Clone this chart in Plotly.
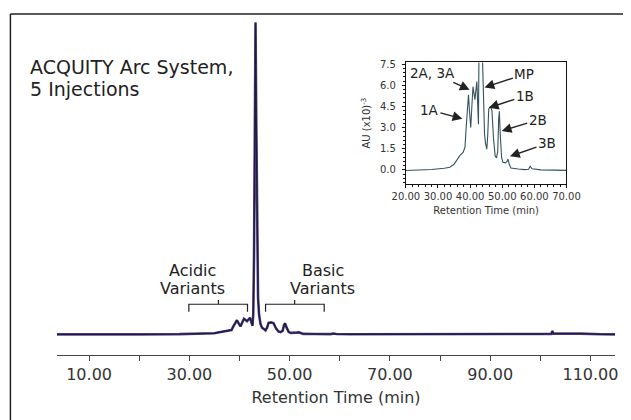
import plotly.graph_objects as go

# chromatogram (AU x10^-3), same run used for main view and inset zoom
rt_min = [3.6, 8.0, 12.0, 16.0, 20.0, 28.0, 32.0, 33.7, 35.0, 35.7, 36.8, 37.8, 38.4, 38.8,
          39.2, 39.5, 39.8, 40.2, 40.5, 40.9, 41.5, 42.1, 42.6, 42.75, 42.9, 43.05, 43.2,
          43.35, 43.5, 43.7, 43.9, 44.2, 44.5, 44.8, 45.2, 45.5, 45.8, 46.3, 46.8, 47.3,
          47.8, 48.2, 48.6, 48.9, 49.1, 49.4, 49.8, 50.2, 51.0, 51.5, 51.8, 52.2, 52.7,
          55.0, 57.0, 58.2, 58.7, 59.3, 62.0, 70.0, 80.0, 90.0, 100.0, 102.2, 102.4,
          102.6, 104.0, 108.0, 112.0, 115.0]
au = [-0.05, -0.1, 0.0, -0.08, -0.04, 0.03, 0.12, 0.19, 0.4, 0.66, 1.01, 1.24, 1.6, 3.1,
      4.6, 5.33, 4.2, 3.0, 4.3, 5.9, 4.98, 6.26, 3.23, 8.0, 30.0, 80.0, 118.5,
      80.0, 35.0, 14.0, 7.5, 3.8, 2.5, 1.9, 1.47, 2.5, 4.3, 4.5, 4.2, 2.2,
      1.0, 0.85, 1.3, 3.6, 4.16, 2.5, 0.9, 0.54, 0.5, 0.6, 0.77, 0.4, 0.14,
      0.07, 0.02, 0.05, 0.26, 0.08, 0.0, -0.03, -0.02, 0.0, 0.1, 0.15, 1.2,
      0.25, 0.3, 0.25, 0.0, -0.05]

# peak labels in the inset: text, arrow target (min, AU), text offset (px)
peak_names = ["2A, 3A", "MP", "1A", "1B", "2B", "3B"]
peak_rt = [39.85, 44.48, 37.6, 45.83, 49.85, 52.41]
peak_au = [5.68, 5.85, 3.62, 4.40, 2.76, 0.96]
label_dx = [-37, 40, -33, 36, 36, 37]
label_dy = [-17, -13, -9, -12, -11, -13]

# variant brackets (start, middle, end in min)
acidic_span = [29.9, 35.8, 41.6]
basic_span = [45.2, 51.0, 56.9]

FONT = "DejaVu Sans"
INK = "#222222"

fig = go.Figure()

fig.add_trace(go.Scatter(x=rt_min, y=au, mode="lines", line=dict(color="#5b4391", width=2.6),
                         hoverinfo="skip"))
fig.add_trace(go.Scatter(x=rt_min, y=au, mode="lines", line=dict(color="#1e1b3d", width=1.4)))
fig.add_trace(go.Scatter(x=rt_min, y=au, mode="lines", line=dict(color="#33535c", width=1.1),
                         xaxis="x2", yaxis="y2"))

# page body keeps an 8px margin, so the figure is 8px smaller than the window
fig.update_layout(
    width=623, height=412,
    margin=dict(l=49, r=11, t=2, b=65),
    paper_bgcolor="white", plot_bgcolor="white",
    showlegend=False,
    font=dict(family=FONT, color=INK),
    xaxis=dict(
        range=[3.6, 114.9], showgrid=False, zeroline=False,
        showline=True, linecolor="#444", linewidth=1.3,
        ticks="outside", ticklen=5, tickcolor="#444", tickwidth=1.3,
        tick0=10, dtick=20, tickformat=".2f",
        minor=dict(tick0=0, dtick=10, ticks="outside", ticklen=5, tickcolor="#444", tickwidth=1.3),
        tickfont=dict(size=16, color="#333"),
        title=dict(text="Retention Time (min)", font=dict(size=16, color="#333"), standoff=8),
    ),
    yaxis=dict(range=[-7.89, 121.76], visible=False),
    xaxis2=dict(
        domain=[0.6252, 0.9130], anchor="y2", range=[20, 70],
        showgrid=False, zeroline=False, showline=True, mirror=True,
        linecolor="#111", linewidth=1,
        ticks="outside", ticklen=3, tickcolor="#111",
        tick0=20, dtick=10, tickformat=".2f",
        minor=dict(dtick=2, ticks="outside", ticklen=2, tickcolor="#111"),
        tickfont=dict(size=10, color="#333"),
        title=dict(text="Retention Time (min)", font=dict(size=10, color="#333"), standoff=5),
    ),
    yaxis2=dict(
        domain=[0.5014, 0.8580], anchor="x2", range=[-1.0, 7.62],
        showgrid=False, zeroline=False, showline=True, mirror=True,
        linecolor="#111", linewidth=1,
        ticks="outside", ticklen=3, tickcolor="#111",
        tick0=0, dtick=1.5, tickformat=".1f", ticklabelstandoff=4,
        minor=dict(dtick=0.3, ticks="outside", ticklen=2, tickcolor="#111"),
        tickfont=dict(size=10, color="#333"),
        title=dict(text="AU (x10)<sup>-3</sup>", font=dict(size=10, color="#333"), standoff=7),
    ),
)

# frame around the figure (cropped on the right and bottom)
fig.add_shape(type="line", xref="paper", yref="paper", x0=-0.0835, x1=1.05, y0=1.0, y1=1.0,
              line=dict(color=INK, width=1.5), layer="above")
fig.add_shape(type="line", xref="paper", yref="paper", x0=-0.0835, x1=-0.0835, y0=1.0, y1=-0.2,
              line=dict(color=INK, width=1.5), layer="above")

# brackets for acidic and basic variants
for x0, xm, x1 in (acidic_span, basic_span):
    fig.add_shape(type="path", xref="x", yref="y",
                  path=f"M {x0},8.6 L {x0},11.4 L {x1},11.4 L {x1},8.6 M {xm},11.4 L {xm},13.0",
                  line=dict(color=INK, width=1.2))

texts = [
    dict(text="ACQUITY Arc System,", x=-0.0515, y=0.845),
    dict(text="5 Injections", x=-0.0515, y=0.779),
]
for t in texts:
    fig.add_annotation(text=t["text"], x=t["x"], y=t["y"], xref="paper", yref="paper",
                       xanchor="left", yanchor="middle", showarrow=False,
                       font=dict(size=19, color=INK))

for word, xc, yc in [("Acidic", 30.7, 24.4), ("Variants", 30.7, 17.5),
                     ("Basic", 56.6, 24.4), ("Variants", 56.6, 17.5)]:
    fig.add_annotation(text=word, x=xc, y=yc, xref="x", yref="y", showarrow=False,
                       font=dict(size=16, color=INK))

for name, px, py, dx, dy in zip(peak_names, peak_rt, peak_au, label_dx, label_dy):
    fig.add_annotation(text=name, x=px, y=py, xref="x2", yref="y2", ax=dx, ay=dy,
                       showarrow=True, arrowhead=2, arrowsize=1.4, arrowwidth=1.4,
                       arrowcolor=INK, standoff=0, font=dict(size=13.5, color=INK))

fig.write_html("out.html")
